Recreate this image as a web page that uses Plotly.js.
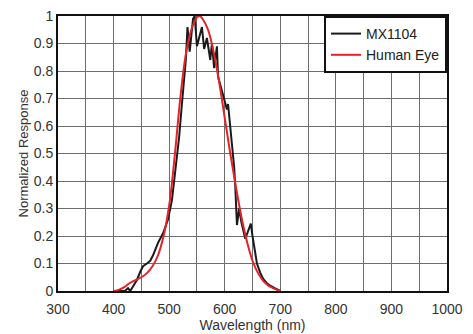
<!DOCTYPE html>
<html>
<head>
<meta charset="utf-8">
<script src="https://cdn.plot.ly/plotly-3.0.1.min.js"></script>
<style>html,body{margin:0;padding:0;background:#fff;}#chart{width:473px;height:334px;}</style>
</head>
<body>
<div id="chart"></div>
<script>
// MX1104 sensor response
const mxWavelength = [400, 420, 426, 430, 436, 442, 448, 453, 460, 466, 471, 480, 489, 498, 505, 510, 513, 515, 518, 523, 527, 530, 533, 537, 543, 546, 550, 559, 563, 568, 574, 577, 581, 586, 588, 595, 601, 604, 606, 610, 613, 617, 619, 621, 622, 626, 630, 637, 643, 647, 650, 653, 658, 664, 669, 675, 681, 690, 700];
const mxResponse   = [0, 0, 0.01, 0.0, 0.02, 0.04, 0.07, 0.09, 0.10, 0.11, 0.13, 0.175, 0.21, 0.26, 0.33, 0.42, 0.47, 0.49, 0.56, 0.68, 0.76, 0.84, 0.96, 0.87, 0.99, 1.0, 0.89, 0.96, 0.88, 0.92, 0.84, 0.90, 0.81, 0.89, 0.78, 0.73, 0.69, 0.66, 0.68, 0.60, 0.55, 0.45, 0.38, 0.30, 0.24, 0.30, 0.25, 0.19, 0.22, 0.245, 0.20, 0.16, 0.10, 0.066, 0.045, 0.03, 0.02, 0.01, 0.0];

// Human eye response
const eyeWavelength = [400, 410, 420, 430, 440, 450, 460, 470, 480, 490, 500, 510, 520, 530, 540, 550, 555, 560, 570, 580, 590, 600, 610, 620, 630, 640, 650, 660, 670, 680, 690, 700];
const eyeResponse   = [0.0, 0.005, 0.015, 0.03, 0.04, 0.05, 0.065, 0.09, 0.13, 0.2, 0.31, 0.49, 0.7, 0.86, 0.95, 0.995, 1.0, 0.99, 0.95, 0.87, 0.76, 0.63, 0.5, 0.38, 0.27, 0.18, 0.11, 0.065, 0.035, 0.018, 0.008, 0.0];

const seriesNames = ["MX1104", "Human Eye"];

const traces = [
  {x: mxWavelength, y: mxResponse, type: 'scatter', mode: 'lines', name: seriesNames[0],
   line: {color: '#1a1a1a', width: 2}},
  {x: eyeWavelength, y: eyeResponse, type: 'scatter', mode: 'lines', name: seriesNames[1],
   line: {color: '#e3222a', width: 2, shape: 'spline'}}
];

const fam = 'Liberation Sans, Arial, sans-serif';

const layout = {
  width: 473, height: 334,
  margin: {l: 58, r: 26, t: 16, b: 43},
  paper_bgcolor: '#fff', plot_bgcolor: '#fff',
  font: {family: fam, size: 14, color: '#333'},
  showlegend: true,
  legend: {x: 1, y: 1, xanchor: 'right', yanchor: 'top', bgcolor: '#fff',
           bordercolor: '#111', borderwidth: 2, font: {family: fam, size: 14, color: '#222'},
           itemwidth: 30, tracegroupgap: 0},
  xaxis: {range: [300, 1000], dtick: 100, tick0: 300, showgrid: true, gridcolor: '#6e6e6e', gridwidth: 1,
          minor: {dtick: 50, showgrid: true, gridcolor: '#6e6e6e', gridwidth: 1},
          showline: true, linecolor: '#111', linewidth: 2, mirror: true, zeroline: false, ticks: '',
          ticklabelstandoff: 4,
          title: {text: 'Wavelength (nm)', font: {family: fam, size: 14, color: '#333'}, standoff: 0},
          tickfont: {family: fam, size: 14, color: '#333'}},
  yaxis: {range: [0, 1], dtick: 0.1, showgrid: true, gridcolor: '#6e6e6e', gridwidth: 1,
          showline: true, linecolor: '#111', linewidth: 2, mirror: true, zeroline: false, ticks: '',
          title: {text: 'Normalized Response', font: {family: fam, size: 13, color: '#333'}, standoff: 2},
          tickfont: {family: fam, size: 14, color: '#333'}}
};

Plotly.newPlot('chart', traces, layout, {displayModeBar: false, staticPlot: true});
</script>
</body>
</html>
